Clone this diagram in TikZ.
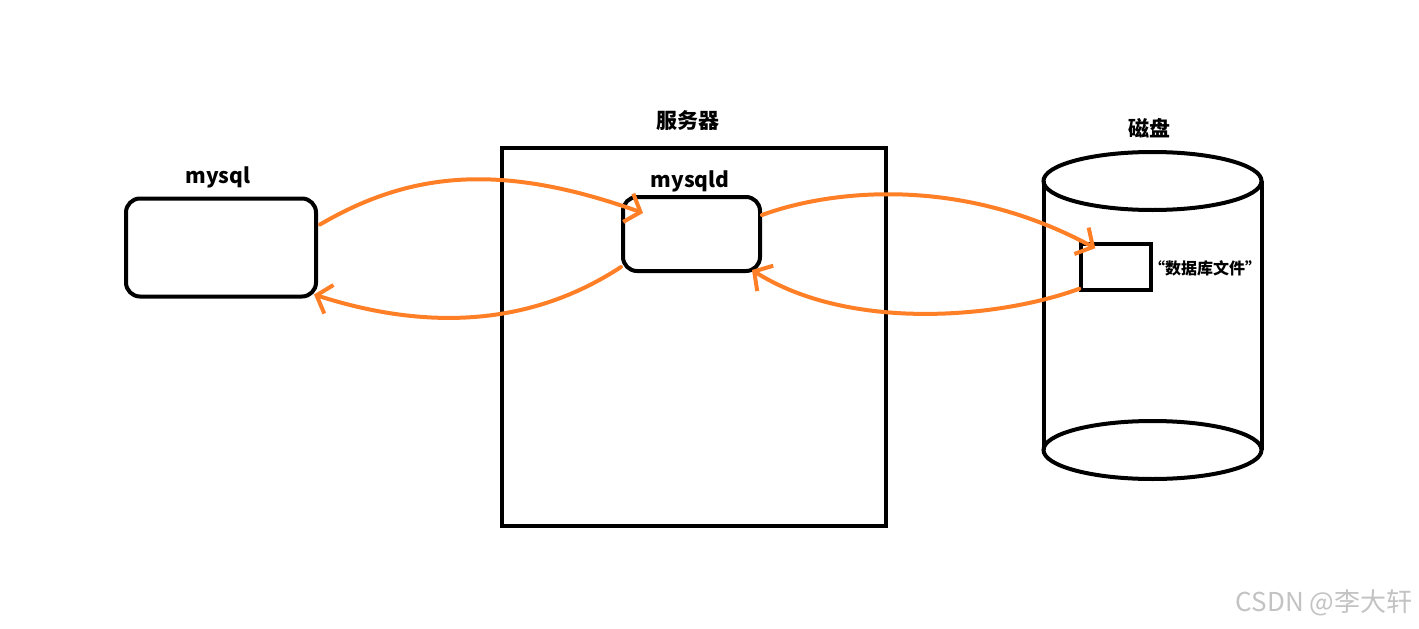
\documentclass[tikz,border=0pt]{standalone}
\usepackage{fontspec}
\setmainfont{Noto Sans CJK SC}
\usetikzlibrary{arrows.meta,calc}
\definecolor{paintorange}{RGB}{255,127,39}
\definecolor{wmgray}{RGB}{195,195,195}
\tikzset{
  blk/.style={draw=black,line width=4pt},
  rbox/.style={blk,rounded corners=14pt,inner sep=0pt},
  sbox/.style={blk,inner sep=0pt},
  lbl/.style={font=\bfseries\fontsize{21}{25}\selectfont,inner sep=0pt},
  flow/.style={draw=paintorange,line width=4pt,line cap=round,
    -{Straight Barb[length=13pt,width=30pt,line width=4pt]}},
}
\begin{document}
\begin{tikzpicture}[x=1pt,y=-1pt]
\useasboundingbox[fill=white] (0,0) rectangle (1419,629);
% server box
\node[sbox,minimum width=384,minimum height=378] (server) at (694,337) {};
\node[lbl] (serverlbl) at (688,121) {服务器};
% mysql client
\node[rbox,minimum width=190,minimum height=98] (mysql) at (221,247.5) {};
\node[lbl] (mysqllbl) at (218,177) {mysql};
% mysqld
\node[rbox,minimum width=137,minimum height=74] (mysqld) at (691.5,234) {};
\node[lbl] (mysqldlbl) at (690,181) {mysqld};
% disk cylinder
\coordinate (cyltop) at (1152.5,181);
\coordinate (cylbot) at (1152.5,450);
\draw[blk] (cyltop) ellipse [x radius=109,y radius=29];
\draw[blk] (cylbot) ellipse [x radius=109,y radius=29];
\draw[blk] ($(cyltop)+(-109,0)$) -- ($(cylbot)+(-109,0)$);
\draw[blk] ($(cyltop)+(109,0)$) -- ($(cylbot)+(109,0)$);
\node[lbl] (disklbl) at (1149,128) {磁盘};
% database file
\node[sbox,line width=3.5pt,minimum width=70,minimum height=46] (dbfile) at (1116,267) {};
\node[font=\bfseries\fontsize{16}{19}\selectfont,inner sep=0pt] (dbfilelbl) at (1205,268) {“数据库文件”};
% flows
\path[flow] ($(mysql.east)+(2,-23)$) .. controls (410,172) and (500,162) .. ($(mysqld.north west)+(22,18)$);
\path[flow] ($(mysqld.south west)+(0,-6)$) .. controls (540,320) and (440,335) .. ($(mysql.south east)+(-4,-4)$);
\path[flow] ($(mysqld.east)+(0,-19)$) .. controls (830,190) and (960,175) .. ($(dbfile.north west)+(16,6)$);
\path[flow] ($(dbfile.south west)+(0,-3)$) .. controls (1000,318) and (850,332) .. ($(mysqld.south east)+(-10,-3)$);
% watermark
\node[text=wmgray,font=\fontsize{26}{30}\selectfont,inner sep=0pt] (wm) at (1324,603) {CSDN @李大轩};
\end{tikzpicture}
\end{document}
